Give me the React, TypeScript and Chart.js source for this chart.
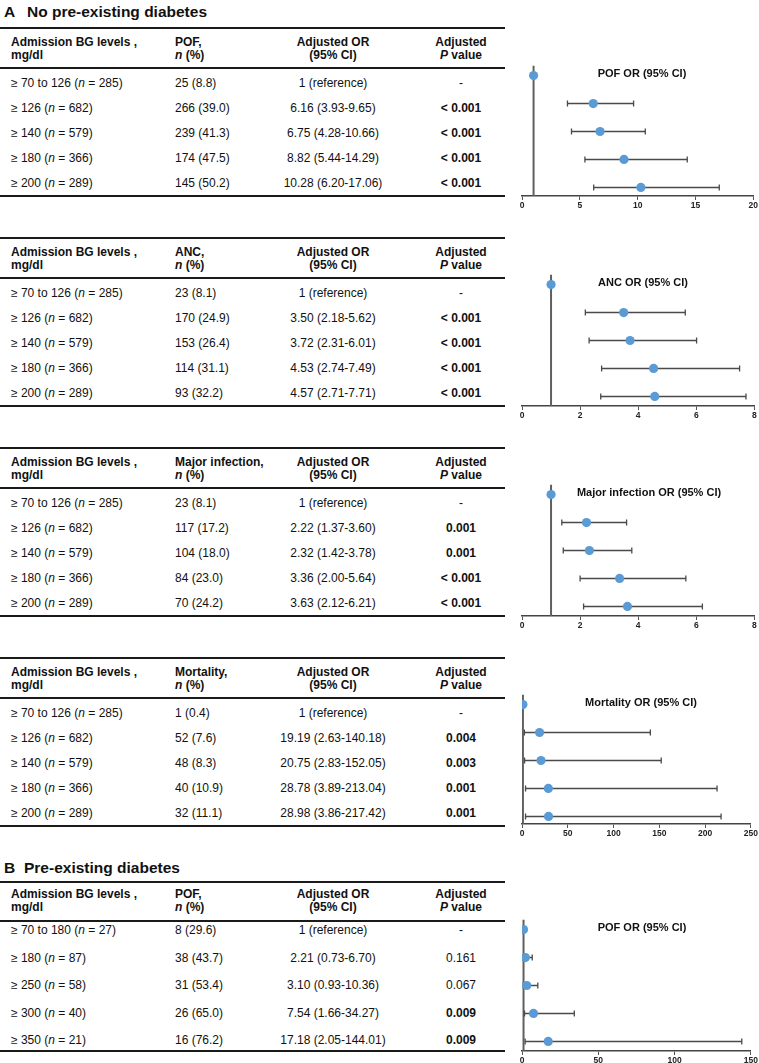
import React, { useEffect, useRef } from "react";
import { Chart, registerables } from "chart.js";

Chart.register(...registerables);

const FONT = '"Liberation Sans", Arial, Helvetica, sans-serif';

// ---------- Data ----------
const bgLabelsA = ["≥ 70 to 126", "≥ 126", "≥ 140", "≥ 180", "≥ 200"];
const bgNA = [285, 682, 579, 366, 289];
const bgLabelsB = ["≥ 70 to 180", "≥ 180", "≥ 250", "≥ 300", "≥ 350"];
const bgNB = [27, 87, 58, 40, 21];

const pofCountA = [25, 266, 239, 174, 145];
const pofPctA = [8.8, 39.0, 41.3, 47.5, 50.2];
const pofOrA = [1, 6.16, 6.75, 8.82, 10.28];
const pofLoA = [null, 3.93, 4.28, 5.44, 6.2];
const pofHiA = [null, 9.65, 10.66, 14.29, 17.06];
const pofPA = ["-", "< 0.001", "< 0.001", "< 0.001", "< 0.001"];

const ancCountA = [23, 170, 153, 114, 93];
const ancPctA = [8.1, 24.9, 26.4, 31.1, 32.2];
const ancOrA = [1, 3.5, 3.72, 4.53, 4.57];
const ancLoA = [null, 2.18, 2.31, 2.74, 2.71];
const ancHiA = [null, 5.62, 6.01, 7.49, 7.71];
const ancPA = ["-", "< 0.001", "< 0.001", "< 0.001", "< 0.001"];

const infCountA = [23, 117, 104, 84, 70];
const infPctA = [8.1, 17.2, 18.0, 23.0, 24.2];
const infOrA = [1, 2.22, 2.32, 3.36, 3.63];
const infLoA = [null, 1.37, 1.42, 2.0, 2.12];
const infHiA = [null, 3.6, 3.78, 5.64, 6.21];
const infPA = ["-", "0.001", "0.001", "< 0.001", "< 0.001"];

const morCountA = [1, 52, 48, 40, 32];
const morPctA = [0.4, 7.6, 8.3, 10.9, 11.1];
const morOrA = [1, 19.19, 20.75, 28.78, 28.98];
const morLoA = [null, 2.63, 2.83, 3.89, 3.86];
const morHiA = [null, 140.18, 152.05, 213.04, 217.42];
const morPA = ["-", "0.004", "0.003", "0.001", "0.001"];

const pofCountB = [8, 38, 31, 26, 16];
const pofPctB = [29.6, 43.7, 53.4, 65.0, 76.2];
const pofOrB = [1, 2.21, 3.1, 7.54, 17.18];
const pofLoB = [null, 0.73, 0.93, 1.66, 2.05];
const pofHiB = [null, 6.7, 10.36, 34.27, 144.01];
const pofPB = ["-", "0.161", "0.067", "0.009", "0.009"];

const xMaxes = [20, 8, 8, 250, 150];
const xSteps = [5, 2, 2, 50, 50];
const outcomeNames = ["POF,", "ANC,", "Major infection,", "Mortality,", "POF,"];
const chartTitles = [
  "POF OR (95% CI)",
  "ANC OR (95% CI)",
  "Major infection OR (95% CI)",
  "Mortality OR (95% CI)",
  "POF OR (95% CI)",
];

// ---------- Helpers ----------
type TableGeom = {
  top: number;
  head1: number;
  head2: number;
  sep: number;
  rows: number[];
  bottom: number;
};

function isBold(p: string) {
  if (p.startsWith("<")) return true;
  const v = parseFloat(p);
  return !isNaN(v) && v < 0.05;
}

function Cell(props: {
  y: number;
  left?: number;
  center?: number;
  bold?: boolean;
  size?: number;
  children: React.ReactNode;
}) {
  const { y, left, center, bold, size = 12, children } = props;
  const style: React.CSSProperties = {
    position: "absolute",
    top: y - 7,
    height: 14,
    lineHeight: "14px",
    fontSize: size,
    fontWeight: bold ? "bold" : "normal",
    whiteSpace: "nowrap",
  };
  if (center !== undefined) {
    style.left = center - 80;
    style.width = 160;
    style.textAlign = "center";
  } else {
    style.left = left;
  }
  return <div style={style}>{children}</div>;
}

function HLine({ y }: { y: number }) {
  return (
    <div
      style={{
        position: "absolute",
        left: 0,
        width: 505,
        top: y - 1,
        height: 2,
        background: "#1a1a1a",
      }}
    />
  );
}

function DataTable(props: {
  g: TableGeom;
  outcome: string;
  labels: string[];
  ns: number[];
  counts: number[];
  pcts: number[];
  ors: number[];
  los: (number | null)[];
  his: (number | null)[];
  ps: string[];
}) {
  const { g, outcome, labels, ns, counts, pcts, ors, los, his, ps } = props;
  const c1 = 11;
  const c2 = 175;
  const c3 = 333;
  const c4 = 461;
  return (
    <>
      <HLine y={g.top} />
      <Cell y={g.head1} left={c1} bold>
        Admission BG levels ,
      </Cell>
      <Cell y={g.head2} left={c1} bold>
        mg/dl
      </Cell>
      <Cell y={g.head1} left={c2} bold>
        {outcome}
      </Cell>
      <Cell y={g.head2} left={c2} bold>
        <i>n</i> (%)
      </Cell>
      <Cell y={g.head1} center={c3} bold>
        Adjusted OR
      </Cell>
      <Cell y={g.head2} center={c3} bold>
        (95% CI)
      </Cell>
      <Cell y={g.head1} center={c4} bold>
        Adjusted
      </Cell>
      <Cell y={g.head2} center={c4} bold>
        <i>P</i> value
      </Cell>
      <HLine y={g.sep} />
      {labels.map((lab, i) => {
        const y = g.rows[i];
        const lo = los[i];
        const hi = his[i];
        const orText =
          lo == null || hi == null
            ? "1 (reference)"
            : `${ors[i].toFixed(2)} (${lo.toFixed(2)}-${hi.toFixed(2)})`;
        return (
          <React.Fragment key={i}>
            <Cell y={y} left={c1}>
              {lab} (<i>n</i> = {ns[i]})
            </Cell>
            <Cell y={y} left={c2}>
              {`${counts[i]} (${pcts[i].toFixed(1)})`}
            </Cell>
            <Cell y={y} center={c3}>
              {orText}
            </Cell>
            <Cell y={y} center={c4} bold={isBold(ps[i])}>
              {ps[i]}
            </Cell>
          </React.Fragment>
        );
      })}
      <HLine y={g.bottom} />
    </>
  );
}

const ROW_PX = 28.1;
const TOP_GAP = 10;

function Forest(props: {
  row0: number;
  bottomOffset: number;
  ors: number[];
  los: (number | null)[];
  his: (number | null)[];
  xMax: number;
  step: number;
  title: string;
  titleX: number;
}) {
  const { row0, bottomOffset, ors, los, his, xMax, step, title, titleX } = props;
  const ref = useRef<HTMLCanvasElement>(null);
  const areaTop = row0 - TOP_GAP;
  const areaBottom = row0 + bottomOffset;
  const padTop = 4;
  const axisH = 18;
  const canvasTop = areaTop - padTop;
  const h = areaBottom - areaTop + padTop + axisH;
  const yMin = -TOP_GAP / ROW_PX;
  const yMax = bottomOffset / ROW_PX;

  useEffect(() => {
    if (!ref.current) return;
    const barColor = "#4a4a4a";
    const datasets: any[] = [];
    datasets.push({
      data: ors.map((v, i) => ({ x: v, y: i })),
      showLine: false,
      pointRadius: 4.6,
      pointHoverRadius: 4.6,
      pointBackgroundColor: "#5B9BD5",
      pointBorderColor: "#5B9BD5",
      pointBorderWidth: 0,
    });
    ors.forEach((_, i) => {
      const lo = los[i];
      const hi = his[i];
      if (lo == null || hi == null) return;
      datasets.push({
        data: [
          { x: lo, y: i },
          { x: hi, y: i },
        ],
        showLine: true,
        borderColor: barColor,
        borderWidth: 1.5,
        pointStyle: "line",
        rotation: 90,
        pointRadius: 3,
        pointHoverRadius: 3,
        pointBorderWidth: 1.3,
        pointBorderColor: barColor,
        pointBackgroundColor: barColor,
      });
    });
    datasets.push({
      data: [
        { x: 1, y: yMin },
        { x: 1, y: yMax },
      ],
      showLine: true,
      borderColor: "#5f5f5f",
      borderWidth: 2,
      pointRadius: 0,
      pointHoverRadius: 0,
    });

    const chart = new Chart(ref.current, {
      type: "scatter",
      data: { datasets },
      options: {
        animation: false,
        responsive: false,
        events: [],
        layout: { padding: { top: padTop, left: 17, right: 3, bottom: 0 } },
        plugins: {
          legend: { display: false },
          tooltip: { enabled: false },
          title: { display: false },
        },
        scales: {
          x: {
            type: "linear",
            min: 0,
            max: xMax,
            afterFit: (s: any) => {
              s.height = axisH;
            },
            ticks: {
              stepSize: step,
              font: { family: FONT, size: 8.5, weight: "bold" },
              color: "#222",
              padding: 1,
            },
            grid: {
              display: true,
              drawOnChartArea: false,
              drawTicks: true,
              tickLength: 4,
              color: "#555",
              lineWidth: 1,
            },
            border: { display: true, color: "#444", width: 1.5 },
          },
          y: {
            type: "linear",
            reverse: true,
            min: yMin,
            max: yMax,
            display: false,
          },
        },
      } as any,
    });
    return () => chart.destroy();
  }, []);

  return (
    <>
      <canvas
        ref={ref}
        width={254}
        height={h}
        style={{ position: "absolute", left: 505, top: canvasTop, display: "block" }}
      />
      <div
        style={{
          position: "absolute",
          left: titleX - 100,
          width: 200,
          top: row0 - 9,
          height: 14,
          lineHeight: "14px",
          textAlign: "center",
          fontSize: 11,
          fontWeight: "bold",
          color: "#111",
          whiteSpace: "pre",
        }}
      >
        {title}
      </div>
    </>
  );
}

function geomA(k: number): TableGeom {
  const t = 28 + 210 * k;
  return {
    top: t,
    head1: t + 14,
    head2: t + 26.5,
    sep: t + 40,
    rows: [0, 1, 2, 3, 4].map((i) => t + 54.5 + 25.2 * i),
    bottom: t + 168,
  };
}

const geomB: TableGeom = {
  top: 882,
  head1: 894,
  head2: 907,
  sep: 921,
  rows: [0, 1, 2, 3, 4].map((i) => 930 + 27.5 * i),
  bottom: 1051,
};

export default function App() {
  const groupsA = [
    { counts: pofCountA, pcts: pofPctA, ors: pofOrA, los: pofLoA, his: pofHiA, ps: pofPA },
    { counts: ancCountA, pcts: ancPctA, ors: ancOrA, los: ancLoA, his: ancHiA, ps: ancPA },
    { counts: infCountA, pcts: infPctA, ors: infOrA, los: infLoA, his: infHiA, ps: infPA },
    { counts: morCountA, pcts: morPctA, ors: morOrA, los: morLoA, his: morHiA, ps: morPA },
  ];
  const row0s = [75, 284, 494, 704, 929];
  const bottomOffsets = [121, 122, 122, 120, 122];
  const titleXs = [642, 643, 649, 641, 642];

  return (
    <div
      style={{
        position: "absolute",
        left: 0,
        top: 0,
        width: 759,
        height: 1063,
        background: "#fff",
        overflow: "hidden",
        fontFamily: FONT,
        color: "#111",
      }}
    >
      <div style={{ position: "absolute", left: 4, top: 3, fontSize: 15.5, fontWeight: "bold", lineHeight: "18px" }}>
        A
      </div>
      <div style={{ position: "absolute", left: 27, top: 3, fontSize: 15.5, fontWeight: "bold", lineHeight: "18px" }}>
        No pre-existing diabetes
      </div>
      {groupsA.map((g, k) => (
        <React.Fragment key={k}>
          <DataTable
            g={geomA(k)}
            outcome={outcomeNames[k]}
            labels={bgLabelsA}
            ns={bgNA}
            counts={g.counts}
            pcts={g.pcts}
            ors={g.ors}
            los={g.los}
            his={g.his}
            ps={g.ps}
          />
          <Forest
            row0={row0s[k]}
            bottomOffset={bottomOffsets[k]}
            ors={g.ors}
            los={g.los}
            his={g.his}
            xMax={xMaxes[k]}
            step={xSteps[k]}
            title={chartTitles[k]}
            titleX={titleXs[k]}
          />
        </React.Fragment>
      ))}
      <div style={{ position: "absolute", left: 4, top: 859, fontSize: 15.5, fontWeight: "bold", lineHeight: "18px" }}>
        B
      </div>
      <div style={{ position: "absolute", left: 24, top: 859, fontSize: 15.5, fontWeight: "bold", lineHeight: "18px" }}>
        Pre-existing diabetes
      </div>
      <DataTable
        g={geomB}
        outcome={outcomeNames[4]}
        labels={bgLabelsB}
        ns={bgNB}
        counts={pofCountB}
        pcts={pofPctB}
        ors={pofOrB}
        los={pofLoB}
        his={pofHiB}
        ps={pofPB}
      />
      <Forest
        row0={row0s[4]}
        bottomOffset={bottomOffsets[4]}
        ors={pofOrB}
        los={pofLoB}
        his={pofHiB}
        xMax={xMaxes[4]}
        step={xSteps[4]}
        title={chartTitles[4]}
        titleX={titleXs[4]}
      />
    </div>
  );
}
